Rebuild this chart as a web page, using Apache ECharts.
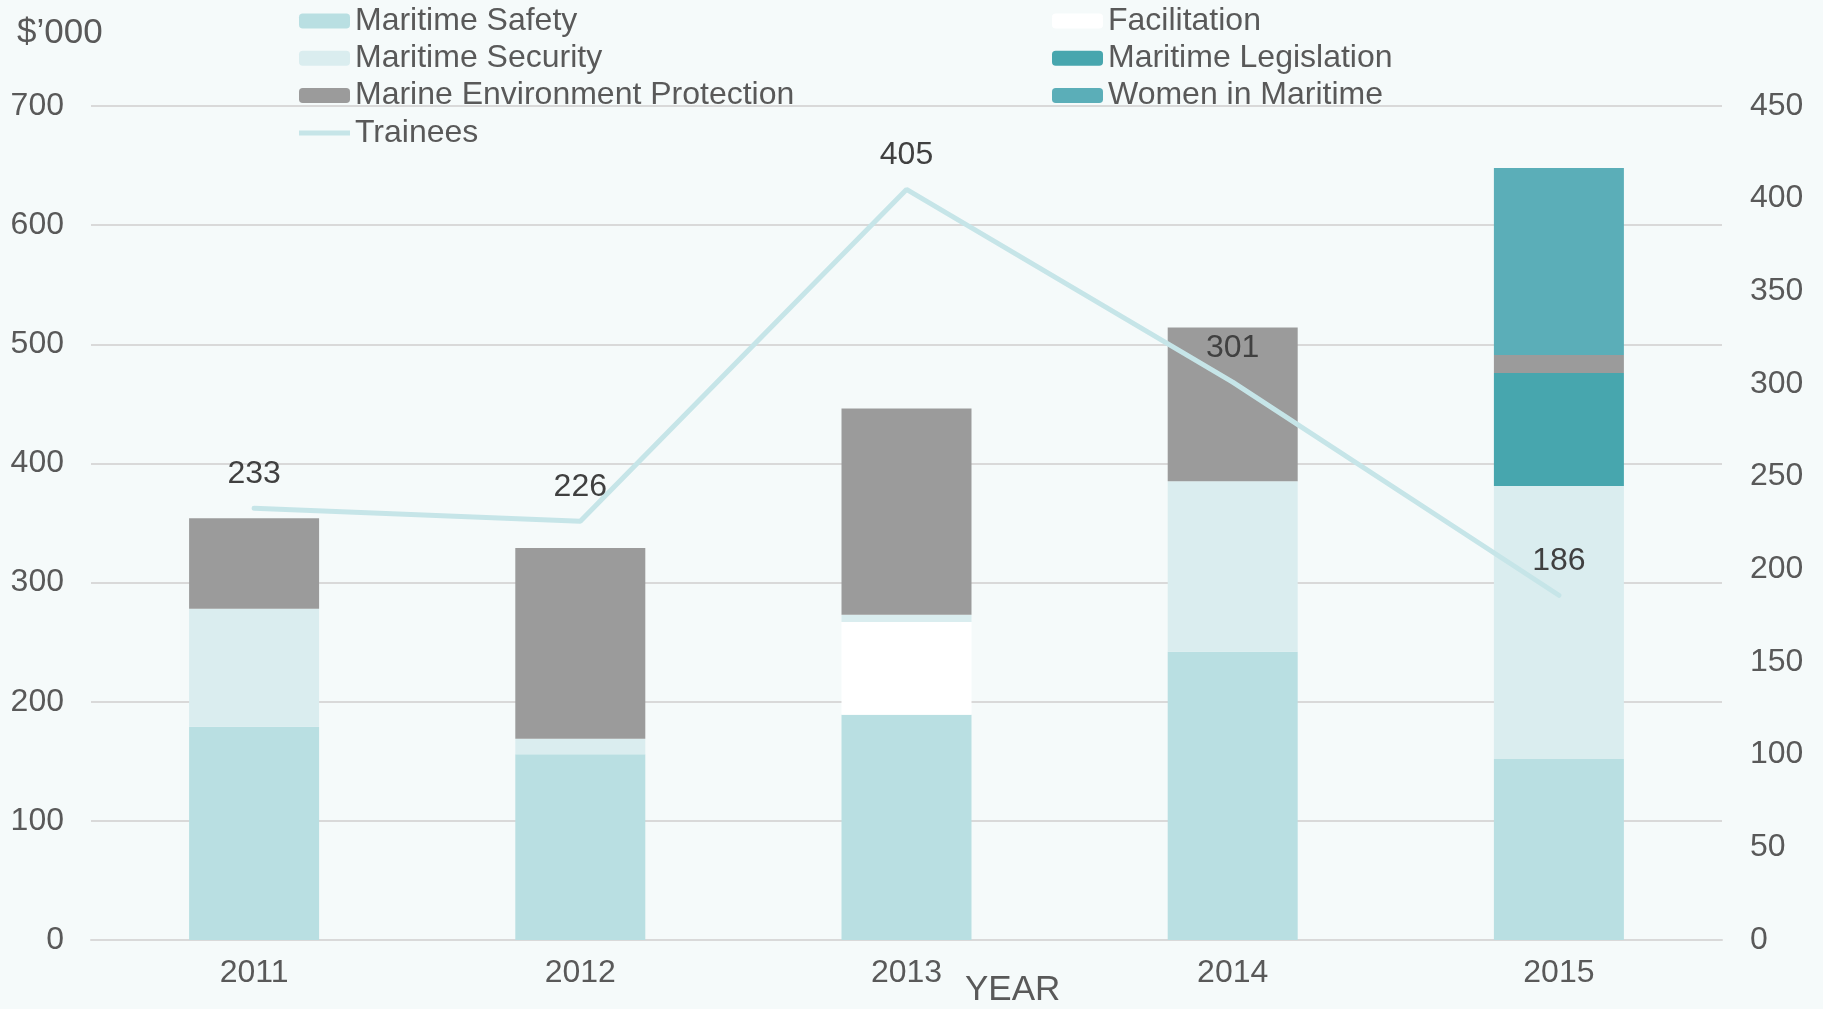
<!DOCTYPE html>
<html>
<head>
<meta charset="utf-8">
<script src="https://cdn.jsdelivr.net/npm/echarts@6/dist/echarts.min.js"></script>
<style>
  html, body { margin: 0; padding: 0; background: #f5fafa; }
  #chart { width: 1823px; height: 1009px; }
</style>
</head>
<body>
<div id="chart"></div>
<script>
// categories
var years = ['2011', '2012', '2013', '2014', '2015'];
// $'000 per programme
var safety = [179, 156, 189, 242, 152];
var facilitation = [0, 0, 78, 0, 0];
var security = [99, 13, 6, 143, 229];
var legislation = [0, 0, 0, 0, 95];
var mep = [76, 160, 173, 129, 15];
var women = [0, 0, 0, 0, 157];
// number of trainees (right axis)
var trainees = [233, 226, 405, 301, 186];

var font = '"Liberation Sans", Arial, sans-serif';
var textColor = '#595959';
var lineColor = '#c6e5e8';

var myChart = echarts.init(document.getElementById('chart'));

function barSeries(name, data, color) {
  return {
    name: name,
    type: 'bar',
    stack: 'total',
    barWidth: 130,
    data: data,
    itemStyle: { color: color },
    emphasis: { disabled: true }
  };
}

var legendText = { fontFamily: font, fontSize: 32, color: textColor, lineHeight: 32 };

var option = {
  backgroundColor: '#f5fafa',
  animation: false,
  textStyle: { fontFamily: font },
  title: [
    {
      text: '$\u2019000',
      left: 12,
      top: 11,
      textStyle: { fontFamily: font, fontSize: 35, fontWeight: 'normal', color: textColor }
    },
    {
      text: 'YEAR',
      left: 960,
      top: 968,
      textStyle: { fontFamily: font, fontSize: 35, fontWeight: 'normal', color: textColor }
    }
  ],
  grid: { left: 91, right: 101, top: 106, bottom: 69 },
  legend: [
    {
      orient: 'vertical',
      left: 294,
      top: 0,
      itemWidth: 51,
      itemHeight: 15,
      itemGap: 5.3,
      textStyle: legendText,
      data: [
        'Maritime Safety',
        'Maritime Security',
        'Marine Environment Protection',
        { name: 'Trainees', icon: 'path://M0,0 L51,0 L51,5 L0,5 Z' }
      ]
    },
    {
      orient: 'vertical',
      left: 1047,
      top: 0,
      itemWidth: 51,
      itemHeight: 15,
      itemGap: 5.3,
      textStyle: legendText,
      data: ['Facilitation', 'Maritime Legislation', 'Women in Maritime']
    }
  ],
  xAxis: {
    type: 'category',
    data: years,
    axisLine: { lineStyle: { color: '#d9d9d9', width: 2 } },
    axisTick: { show: false },
    axisLabel: { fontFamily: font, fontSize: 32, color: textColor, margin: 17 }
  },
  yAxis: [
    {
      type: 'value',
      min: 0,
      max: 700,
      interval: 100,
      axisLine: { show: false },
      axisTick: { show: false },
      axisLabel: { fontFamily: font, fontSize: 32, color: textColor, margin: 27 },
      splitLine: { lineStyle: { color: '#d9d9d9', width: 2 } }
    },
    {
      type: 'value',
      min: 0,
      max: 450,
      interval: 50,
      axisLine: { show: false },
      axisTick: { show: false },
      axisLabel: { fontFamily: font, fontSize: 32, color: textColor, margin: 28 },
      splitLine: { show: false }
    }
  ],
  series: [
    barSeries('Maritime Safety', safety, '#b9dfe2'),
    barSeries('Facilitation', facilitation, '#ffffff'),
    barSeries('Maritime Security', security, '#daedef'),
    barSeries('Maritime Legislation', legislation, '#47a6ae'),
    barSeries('Marine Environment Protection', mep, '#9b9b9b'),
    barSeries('Women in Maritime', women, '#5baeb8'),
    {
      name: 'Trainees',
      type: 'line',
      yAxisIndex: 1,
      data: trainees,
      symbol: 'circle',
      symbolSize: 2,
      showSymbol: true,
      z: 5,
      lineStyle: { color: lineColor, width: 5, cap: 'round' },
      itemStyle: { color: lineColor },
      label: {
        show: true,
        position: 'top',
        distance: 17,
        fontFamily: font,
        fontSize: 32,
        color: '#404040'
      },
      emphasis: { disabled: true }
    }
  ]
};

myChart.setOption(option);
</script>
</body>
</html>
